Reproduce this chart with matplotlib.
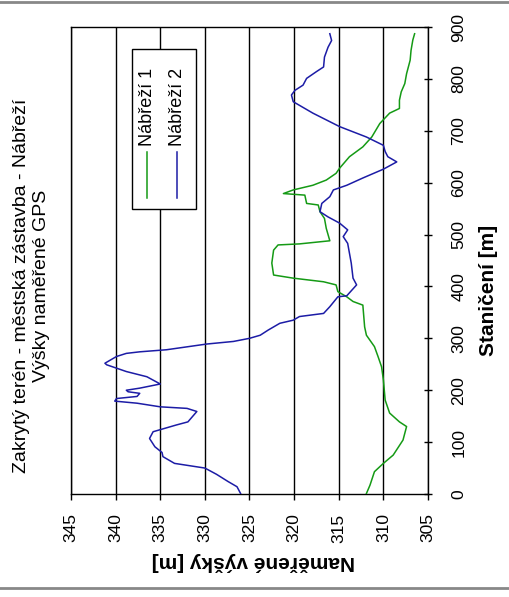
import matplotlib
matplotlib.use("Agg")
import matplotlib.pyplot as plt
from matplotlib.patches import Rectangle
from matplotlib.lines import Line2D

plt.rcParams['font.family'] = ['Liberation Sans', 'DejaVu Sans']

# ---- data ----
title_lines = ["Zakrytý terén - městská zástavba - Nábřeží", "Výšky naměřené GPS"]
series_names = ["Nábřeží 1", "Nábřeží 2"]
x_label = "Staničení [m]"
y_label = "Naměřené výšky [m]"

stat_1 = [1, 17, 43, 59, 75, 104, 130, 139, 156, 181, 220, 245, 265, 284, 306, 322, 364, 371,
          380, 390, 403, 409, 416, 422, 445, 470, 480, 482, 488, 512, 531, 544, 557, 560, 576,
          579, 586, 595, 605, 618, 628, 650, 669, 688, 714, 734, 743, 759, 775, 791, 810, 836,
          855, 875, 887]
height_1 = [311.9, 311.5, 311.0, 310.0, 308.9, 307.8, 307.4, 308.2, 309.3, 309.8, 310.0, 310.2,
            310.6, 311.0, 311.9, 312.1, 312.3, 313.4, 314.1, 315.1, 315.3, 316.7, 320.1, 322.3,
            322.5, 322.3, 321.8, 319.4, 316.0, 316.4, 316.6, 317.1, 317.3, 318.6, 318.8, 321.2,
            320.1, 317.9, 316.4, 315.3, 314.9, 313.8, 312.3, 311.3, 310.4, 309.3, 308.2, 308.2,
            308.0, 307.6, 307.4, 307.0, 306.9, 306.7, 306.5]

stat_2 = [1, 14, 24, 38, 50, 59, 72, 80, 91, 107, 120, 133, 139, 159, 165, 168, 175, 179, 184,
          188, 194, 197, 200, 204, 212, 226, 236, 249, 252, 265, 271, 274, 278, 289, 294, 300,
          306, 316, 329, 335, 342, 348, 361, 380, 382, 403, 416, 445, 483, 496, 509, 522, 534,
          544, 560, 573, 586, 595, 609, 626, 640, 650, 660, 672, 688, 708, 734, 756, 769, 778,
          788, 801, 814, 823, 842, 861, 874, 887]
height_2 = [326.0, 326.4, 327.4, 328.7, 330.0, 333.4, 334.7, 334.8, 335.6, 336.2, 335.8, 333.2,
            331.9, 330.9, 332.0, 335.0, 337.6, 340.1, 339.9, 337.6, 337.3, 338.6, 338.8, 337.3,
            335.0, 336.5, 338.8, 341.0, 341.2, 339.9, 338.8, 337.3, 334.3, 329.8, 326.8, 325.0,
            323.8, 322.9, 321.6, 320.1, 319.4, 316.7, 316.0, 315.1, 314.1, 313.0, 313.4, 313.6,
            314.0, 314.5, 314.0, 314.9, 316.2, 317.1, 316.9, 316.0, 315.6, 314.1, 312.3, 310.0,
            308.5, 309.5, 309.8, 310.0, 311.9, 314.9, 317.9, 320.1, 320.3, 319.9, 319.0, 318.6,
            317.5, 316.7, 316.6, 316.2, 315.8, 316.0]

height_ticks = [345, 340, 335, 330, 325, 320, 315, 310, 305]
stat_ticks = [0, 100, 200, 300, 400, 500, 600, 700, 800, 900]
colors = ['#159a15', '#1c1ca6']

# ---- figure ----
W, H = 509, 597
fig = plt.figure(figsize=(W / 100, H / 100), dpi=100)
fig.patch.set_facecolor('white')

def fx(px):
    return px / W

def fy(py):
    return 1 - py / H

L, R, T, B = 71, 428, 27, 494
ax = fig.add_axes([fx(L), fy(B), fx(R) - fx(L), fy(T) - fy(B)])

ax.plot(height_1, stat_1, color=colors[0], lw=1.1, zorder=3)
ax.plot(height_2, stat_2, color=colors[1], lw=1.1, zorder=3)

ax.set_xlim(345, 305)
ax.set_ylim(0, 900)
ax.set_xticks(height_ticks)
ax.set_yticks(stat_ticks)
ax.grid(axis='x', color='black', lw=1.0)
ax.set_axisbelow(True)
for sp in ax.spines.values():
    sp.set_color('black')
    sp.set_linewidth(1.0)

ax.yaxis.tick_right()
ax.tick_params(axis='x', direction='out', length=4, width=1, pad=10, labelsize=12.5,
               labelrotation=90)
ax.tick_params(axis='y', direction='inout', length=6, width=1, pad=14, labelsize=12.5,
               labelrotation=90)
for lab in ax.get_yticklabels():
    lab.set_va('center')

# axis titles
fig.text(fx(253), fy(562), y_label, rotation=180, ha='center', va='center',
         fontsize=15, fontweight='bold')
fig.text(fx(489), fy(290), x_label, rotation=90, ha='center', va='center',
         fontsize=15, fontweight='bold')

# chart title (two lines, rotated)
fig.text(fx(22), fy(286), title_lines[0], rotation=90, ha='center', va='center', fontsize=14)
fig.text(fx(42), fy(286), title_lines[1], rotation=90, ha='center', va='center', fontsize=14)

# legend (rotated, drawn manually)
fig.add_artist(Rectangle((fx(132), fy(209)), fx(196) - fx(132), fy(49) - fy(209),
                         transform=fig.transFigure, facecolor='white', edgecolor='black',
                         lw=1.0, zorder=5))
for i, (name, c) in enumerate(zip(series_names, colors)):
    xp = [147, 177][i]
    fig.add_artist(Line2D([fx(xp), fx(xp)], [fy(198), fy(152)], transform=fig.transFigure,
                          color=c, lw=1.1, zorder=6))
    fig.text(fx(xp), fy(146), name, rotation=90, rotation_mode='anchor', ha='left',
             va='center', fontsize=13, zorder=6)

# outer frame lines
for py in (1.5, 588):
    fig.add_artist(Line2D([0, 1], [fy(py), fy(py)], transform=fig.transFigure,
                          color='#888888', lw=2.0, zorder=1))

fig.savefig('out.png', dpi=100)
